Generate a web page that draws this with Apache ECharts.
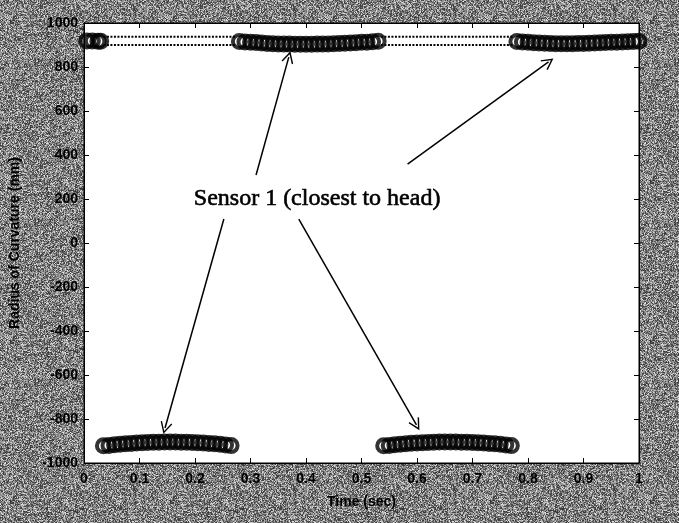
<!DOCTYPE html>
<html>
<head>
<meta charset="utf-8">
<script src="https://cdn.jsdelivr.net/npm/echarts@6/dist/echarts.min.js"></script>
<style>
html,body{margin:0;padding:0;}
#chart{width:679px;height:523px;}
</style>
</head>
<body>
<div id="chart"></div>
<script>
// x tick labels and y range
var xTicks = ['0', '0.1', '0.2', '0.3', '0.4', '0.5', '0.6', '0.7', '0.8', '0.9', '1'];
var yMin = -1000, yMax = 1000, yStep = 200;

// top bands (positive curvature)
var topTime1 = [0.005, 0.015, 0.025, 0.03];
var topVal1 = [918, 918, 917, 917];
var topTime2 = [0.28, 0.29, 0.30, 0.31, 0.32, 0.33, 0.34, 0.35, 0.36, 0.37, 0.38, 0.39, 0.40,
  0.41, 0.42, 0.43, 0.44, 0.45, 0.46, 0.47, 0.48, 0.49, 0.50, 0.51, 0.52, 0.53];
var topVal2 = [916, 914, 912, 911, 909, 907, 906, 905, 904, 904, 903, 903, 903,
  903, 904, 904, 905, 906, 907, 908, 909, 910, 912, 913, 915, 917];
var topTime3 = [0.78, 0.79, 0.80, 0.81, 0.82, 0.83, 0.84, 0.85, 0.86, 0.87, 0.88, 0.89,
  0.90, 0.91, 0.92, 0.93, 0.94, 0.95, 0.96, 0.97, 0.98, 0.99, 1.00];
var topVal3 = [916, 914, 912, 910, 909, 908, 907, 906, 906, 906, 906, 907,
  907, 908, 909, 910, 911, 912, 913, 914, 915, 916, 917];

// bottom bands (negative curvature)
var botTime1 = [0.035, 0.045, 0.055, 0.065, 0.075, 0.085, 0.095, 0.105, 0.115, 0.125, 0.135, 0.145,
  0.155, 0.165, 0.175, 0.185, 0.195, 0.205, 0.215, 0.225, 0.235, 0.245, 0.255, 0.265];
var botVal1 = [-922, -920, -917, -915, -913, -911, -909, -908, -907, -906, -906, -905,
  -905, -905, -906, -906, -907, -908, -909, -911, -913, -915, -918, -921];
var botTime2 = [0.54, 0.55, 0.56, 0.57, 0.58, 0.59, 0.60, 0.61, 0.62, 0.63, 0.64, 0.65,
  0.66, 0.67, 0.68, 0.69, 0.70, 0.71, 0.72, 0.73, 0.74, 0.75, 0.76, 0.77];
var botVal2 = [-922, -920, -917, -915, -912, -910, -909, -908, -907, -906, -905, -905,
  -905, -905, -906, -906, -907, -908, -909, -911, -913, -915, -918, -921];

// dotted traces in the gaps of the top band
var gapTime1 = [0.035, 0.275];
var gapTime2 = [0.535, 0.775];
var gapUpper = [937, 937];
var gapLower = [900, 900];

// annotation
var noteText = 'Sensor 1 (closest to head)';
var notePos = [0.42, 200];
var arrows = [
  [[0.310, 309], [0.369, 845]],
  [[0.583, 359], [0.837, 823]],
  [[0.252, 109], [0.146, -841]],
  [[0.387, 109], [0.599, -827]]
];

function pairs(xs, ys) {
  return xs.map(function (x, i) { return [x, ys[i]]; });
}

// grainy scanned background
(function () {
  var c = document.createElement('canvas');
  c.width = 160; c.height = 160;
  var ctx = c.getContext('2d');
  var img = ctx.createImageData(160, 160);
  var s = 12345;
  for (var i = 0; i < img.data.length; i += 4) {
    s = (s * 1103515245 + 12345) & 0x7fffffff;
    var r = (s % 1000) / 1000;
    var g = r < 0.35 ? 50 + r * 150 : (r < 0.8 ? 110 + (r - 0.35) * 140 : 175 + (r - 0.8) * 300);
    img.data[i] = img.data[i + 1] = img.data[i + 2] = g;
    img.data[i + 3] = 255;
  }
  ctx.putImageData(img, 0, 0);
  document.getElementById('chart').style.background = 'url(' + c.toDataURL() + ')';
})();

var chart = echarts.init(document.getElementById('chart'));

function band(xs, ys) {
  return {
    type: 'scatter',
    symbol: 'circle',
    symbolSize: 13,
    itemStyle: { color: 'rgba(0,0,0,0)', borderColor: '#000', borderWidth: 4 },
    silent: true,
    data: pairs(xs, ys)
  };
}

function dotted(xs, ys) {
  return {
    type: 'line',
    data: pairs(xs, ys),
    symbol: 'none',
    lineStyle: { color: '#000', width: 2, type: [2, 1.5] },
    silent: true
  };
}

var arrowHead = 'path://M0,0 L7,12 L5.6,12.8 L0,3.2 L-5.6,12.8 L-7,12 Z';

var axisFont = { fontFamily: 'Liberation Sans', fontWeight: 'bold', fontSize: 14, color: '#000' };
var axisLine = { show: true, onZero: false, lineStyle: { color: '#000' } };
var tick = { inside: true, length: 5, lineStyle: { color: '#000' } };

var option = {
  animation: false,
  backgroundColor: 'transparent',
  grid: {
    left: 83, right: 40, top: 23, bottom: 60,
    show: true, backgroundColor: '#fff', borderColor: '#000', borderWidth: 1
  },
  xAxis: [{
    type: 'value', min: 0, max: 1, interval: 0.1,
    name: 'Time (sec)', nameLocation: 'middle', nameGap: 32,
    nameTextStyle: axisFont,
    axisLine: axisLine, axisTick: tick,
    axisLabel: Object.assign({ margin: 9, formatter: function (v) { return xTicks[Math.round(v * 10)]; } }, axisFont),
    splitLine: { show: false }
  }, {
    type: 'value', position: 'top', min: 0, max: 1, interval: 0.1,
    axisLine: axisLine, axisTick: tick,
    axisLabel: { show: false }, splitLine: { show: false }
  }],
  yAxis: [{
    type: 'value', min: yMin, max: yMax, interval: yStep,
    name: 'Radius of Curvature (mm)', nameLocation: 'middle', nameGap: 62,
    nameTextStyle: axisFont,
    axisLine: axisLine, axisTick: tick,
    axisLabel: Object.assign({ margin: 6, formatter: function (v) { return String(v); } }, axisFont),
    splitLine: { show: false }
  }, {
    type: 'value', position: 'right', min: yMin, max: yMax, interval: yStep,
    axisLine: axisLine, axisTick: tick,
    axisLabel: { show: false }, splitLine: { show: false }
  }],
  series: [
    dotted(gapTime1, gapUpper),
    dotted(gapTime1, gapLower),
    dotted(gapTime2, gapUpper),
    dotted(gapTime2, gapLower),
    band(topTime1, topVal1),
    band(topTime2, topVal2),
    band(topTime3, topVal3),
    band(botTime1, botVal1),
    Object.assign(band(botTime2, botVal2), {
      markLine: {
        silent: true,
        symbol: ['none', arrowHead],
        symbolSize: 12,
        label: { show: false },
        emphasis: { disabled: true },
        lineStyle: { color: '#000', width: 1.5, type: 'solid' },
        data: arrows.map(function (a) { return [{ coord: a[0] }, { coord: a[1] }]; })
      },
      markPoint: {
        silent: true,
        symbol: 'circle', symbolSize: 0,
        label: {
          show: true, position: 'inside', formatter: noteText,
          fontFamily: 'Liberation Serif', fontSize: 24, color: '#000',
          textBorderColor: '#000', textBorderWidth: 0.6
        },
        data: [{ coord: notePos }]
      }
    })
  ]
};

chart.setOption(option);
</script>
</body>
</html>
